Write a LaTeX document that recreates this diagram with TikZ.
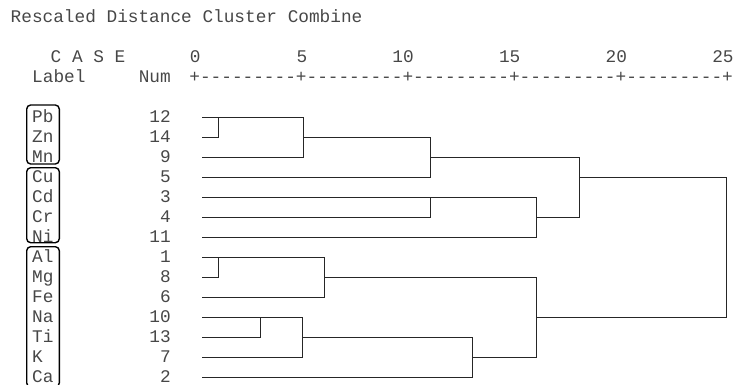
\documentclass[tikz,border=0pt]{standalone}
\usepackage{fontspec}
\setmonofont{Liberation Mono}
\usepackage{tikz}
\usetikzlibrary{calc}
\tikzset{
  spsstext/.style={font=\ttfamily\fontsize{17.76}{20}\selectfont, text=black!72, inner sep=0pt},
  spsslabel/.style={spsstext, anchor=base west},
  spssnum/.style={spsstext, anchor=base east},
  groupbox/.style={draw=black, rounded corners=4pt, line width=1.4pt},
  dendro/.style={draw=black!85, line width=1.2pt},
}

\begin{document}
\begin{tikzpicture}[x=1pt, y=-1pt]
				\useasboundingbox (0,0) rectangle (733,385);
				% Header lines
				\node[spsslabel] (title) at (10.5,22.5) {Rescaled Distance Cluster Combine};
				\node[spsslabel] (case) at (50.5,62.5) {C A S E};
				\node[spsslabel] (label) at (32,82.7) {Label};
				\node[spssnum] (num) at (171,82.7) {Num};
				\node[spsslabel] (axis) at (189.2,82.7) {+---------+---------+---------+---------+---------+};
				\foreach \v [count=\k from 0] in {0,5,10,15,20,25}
					\node[spssnum] (t\v) at ({200.8+106.6*\k},62.7) {\v};

				% Case rows - element, number, leaf start
				\foreach \el/\n [count=\i from 0] in {Pb/12,Zn/14,Mn/9,Cu/5,Cd/3,Cr/4,Ni/11,Al/1,Mg/8,Fe/6,Na/10,Ti/13,K/7,Ca/2} {
					\node[spsslabel] (\el) at (32,{122.7+20*\i}) {\el};
					\node[spssnum] (n\n) at (171,{122.7+20*\i}) {\n};
					\coordinate (l\n) at (202,{117.5+20*\i});
				}

				% Group boxes
				\draw[groupbox] (26.7,105) rectangle (59.3,164);
				\draw[groupbox] (26.7,167.7) rectangle (59.3,242.7);
				\draw[groupbox] (26.7,246.7) rectangle (59.3,387);

				% Cluster joins - upper branch
				\coordinate (c1) at (218.5,0 |- l12);
				\coordinate (c2) at (303.5,0 |- l14);
				\coordinate (c3) at (430.5,0 |- l9);
				\coordinate (c4) at (430.5,0 |- l3);
				\coordinate (c5) at (536.5,0 |- l4);
				\coordinate (c6) at (579.5,0 |- l5);
				% Cluster joins - lower branch
				\coordinate (c7) at (218.5,0 |- l1);
				\coordinate (c8) at (324.5,0 |- l8);
				\coordinate (c9) at (260.5,0 |- l10);
				\coordinate (c10) at (302.5,0 |- l13);
				\coordinate (c11) at (472.5,0 |- l7);
				\coordinate (c12) at (536.5,0 |- l10);
				\coordinate (c13) at (726.5,0 |- l5);

			% Dendrogram lines
			\draw[dendro] (l12) -- (l12 -| c1) -- (l14 -| c1) -- (l14);
			\draw[dendro] (c1) -- (c1 -| c2) -- (l9 -| c2) -- (l9);
			\draw[dendro] (c2) -- (c2 -| c3) -- (l5 -| c3) -- (l5);
			\draw[dendro] (l3) -- (l3 -| c4) -- (l4 -| c4) -- (l4);
			\draw[dendro] (c4) -- (c4 -| c5) -- (l11 -| c5) -- (l11);
			\draw[dendro] (c3) -- (c3 -| c6) -- (c5 -| c6) -- (c5);
			\draw[dendro] (l1) -- (l1 -| c7) -- (l8 -| c7) -- (l8);
			\draw[dendro] (c7) -- (c7 -| c8) -- (l6 -| c8) -- (l6);
			\draw[dendro] (l10) -- (l10 -| c9) -- (l13 -| c9) -- (l13);
			\draw[dendro] (c9) -- (c9 -| c10) -- (l7 -| c10) -- (l7);
			\draw[dendro] (c10) -- (c10 -| c11) -- (l2 -| c11) -- (l2);
			\draw[dendro] (c8) -- (c8 -| c12) -- (c11 -| c12) -- (c11);
				\draw[dendro] (c6) -- (c6 -| c13) -- (c12 -| c13) -- (c12);
\end{tikzpicture}
\end{document}
